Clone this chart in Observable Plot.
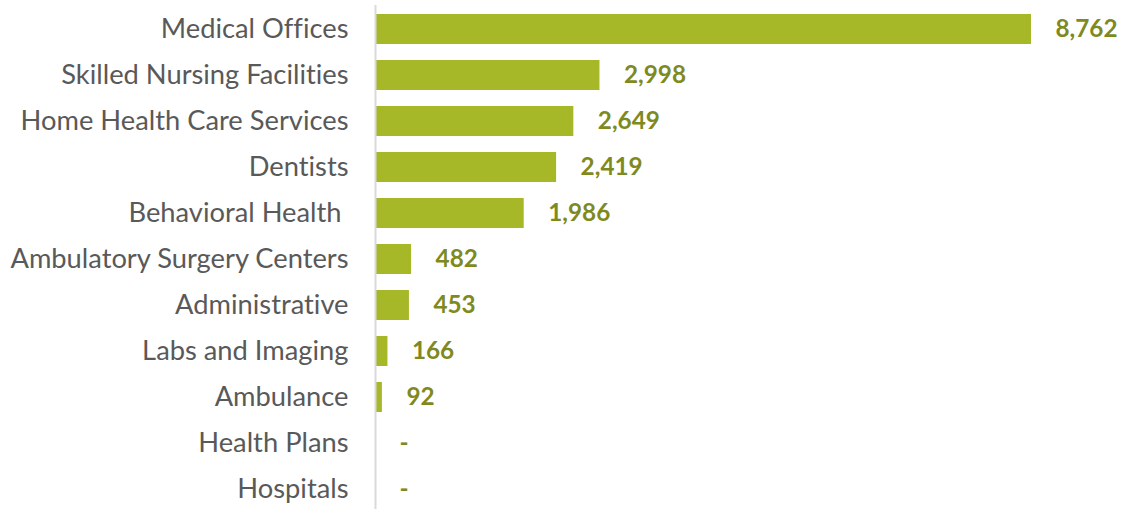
<!DOCTYPE html>
<html>
<head>
<meta charset="utf-8">
<script src="https://cdn.jsdelivr.net/npm/d3@7"></script>
<script src="https://cdn.jsdelivr.net/npm/@observablehq/plot@0.6"></script>
<style>
  html, body { margin: 0; padding: 0; background: #fff; }
  svg text { font-variant-ligatures: none; font-feature-settings: "liga" 0; }
</style>
</head>
<body>
<div id="chart"></div>
<script>
const categories = [
  "Medical Offices",
  "Skilled Nursing Facilities",
  "Home Health Care Services",
  "Dentists",
  "Behavioral Health ",
  "Ambulatory Surgery Centers",
  "Administrative",
  "Labs and Imaging",
  "Ambulance",
  "Health Plans",
  "Hospitals"
];
const values = [8762, 2998, 2649, 2419, 1986, 482, 453, 166, 92, 0, 0];

const data = categories.map((c, i) => ({category: c, value: values[i]}));
const fmt = d3.format(",");

const chart = Plot.plot({
  width: 1123,
  height: 509,
  marginLeft: 375,
  marginRight: 92,
  marginTop: 12.7,
  marginBottom: 3.7,
  style: {fontFamily: "Lato, sans-serif", background: "#fff"},
  x: {domain: [0, 8762], axis: null},
  y: {domain: categories, paddingInner: 0.351, paddingOuter: 0, label: null, tickSize: 0, tickPadding: 27},
  marks: [
    Plot.barX(data, {x: "value", y: "category", fill: "#a6b727"}),
    Plot.ruleX([0], {stroke: "#d9d9d9", strokeWidth: 2, insetTop: -7.7, insetBottom: -3.7}),
    Plot.axisY({tickSize: 0, tickPadding: 27, fontSize: 27.3, fill: "#595959", label: null}),
    Plot.text(data, {
      x: "value", y: "category",
      text: d => d.value === 0 ? "-" : fmt(d.value),
      textAnchor: "start", dx: 24,
      fontSize: 24.3, fontWeight: "bold", fill: "#7f8a1e"
    })
  ]
});
document.getElementById("chart").appendChild(chart);
</script>
</body>
</html>
